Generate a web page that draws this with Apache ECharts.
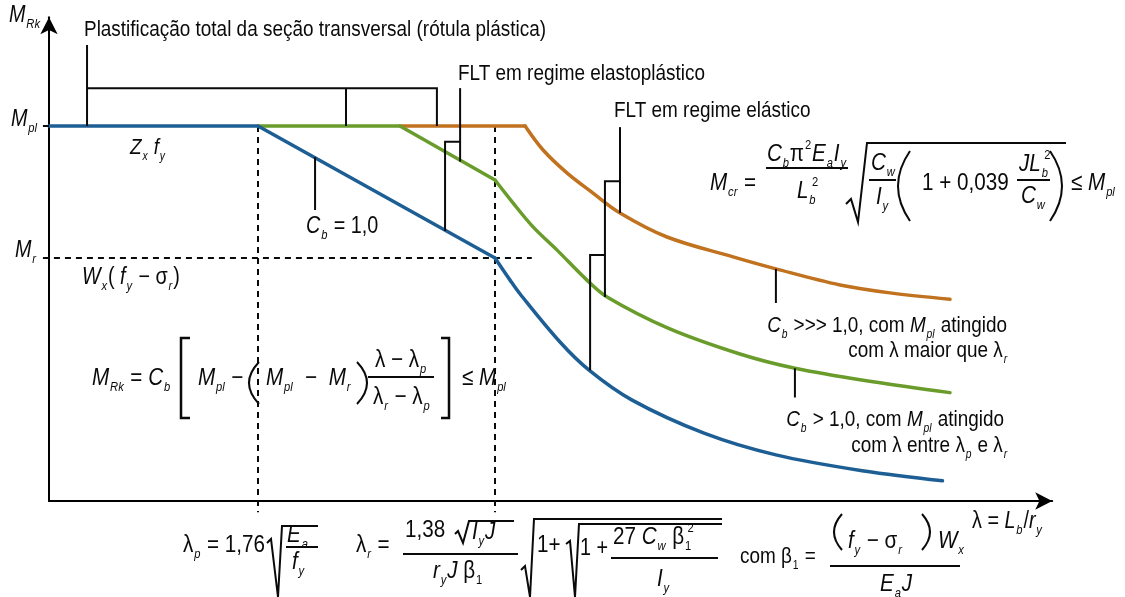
<!DOCTYPE html>
<html><head><meta charset="utf-8">
<script src="https://cdn.jsdelivr.net/npm/echarts@6/dist/echarts.min.js"></script>
<style>html,body{margin:0;padding:0;background:#fff}#chart{width:1125px;height:597px}</style>
</head><body><div id="chart"></div>
<script>
// ---------------- data (λ scaled so that λp = 100, M relative to Mpl = 1) ----------------
const lambdaP = 100;
const lambdaR = 213.4;
const Mpl = 1.0;
const Mr = 0.648;
const lambdaMax = 480;
const mMax = 1.29;

const blueInelastic = [[0, 1], [100, 1], [213.4, 0.648]];
const blueElastic = [[213.4, 0.648], [220.6, 0.589], [225.4, 0.552], [244.5, 0.424], [258.4, 0.349], [279, 0.269], [313.4, 0.181], [347.8, 0.123], [390, 0.08], [427.5, 0.054]];
const greenInelastic = [[100, 1], [167.9, 1], [213.4, 0.856]];
const greenElastic = [[213.4, 0.856], [222, 0.795], [231.6, 0.731], [243.1, 0.669], [257.4, 0.589], [267, 0.544], [296.2, 0.461], [330.6, 0.392], [356.9, 0.354], [394.3, 0.318], [431.1, 0.289]];
const orangeInelastic = [[167.9, 1], [227.8, 1]];
const orangeElastic = [[227.8, 1], [236.4, 0.936], [247.8, 0.875], [260.3, 0.821], [273.2, 0.768], [295.7, 0.704], [327.3, 0.651], [347.8, 0.619], [378.5, 0.576], [402.4, 0.555], [431.1, 0.538]];

const dashedLines = [
  [[100, 1], [100, -0.03]],
  [[213.4, 1], [213.4, -0.03]],
  [[-2.9, 0.648], [231, 0.648]]
];
const pointerLines = [
  [[18.2, 1.216], [18.2, 1.0]],
  [[18.2, 1.101], [185.6, 1.101], [185.6, 1.0]],
  [[142.1, 1.101], [142.1, 1.0]],
  [[196.7, 1.101], [196.7, 0.905]],
  [[196.7, 0.958], [189.5, 0.958], [189.5, 0.72]],
  [[273.2, 0.997], [273.2, 0.768]],
  [[273.2, 0.853], [266, 0.853], [266, 0.544]],
  [[266, 0.656], [258.9, 0.656], [258.9, 0.349]],
  [[127.3, 0.917], [127.3, 0.776]],
  [[347.8, 0.619], [347.8, 0.528]],
  [[356.9, 0.354], [356.9, 0.276]],
  [[-2.9, 1], [0, 1]]
];

const BLUE = '#1d5f95', GREEN = '#6a9c2c', ORANGE = '#c0721f', INK = '#0a0a0a';

// ---------------- text helpers ----------------
const FF = '"Liberation Sans", Arial, Helvetica, sans-serif';
const TITLE = 'Plastificação total da seção transversal (rótula plástica)';
const mctx = document.createElement('canvas').getContext('2d');
mctx.font = '22px "Liberation Sans", Arial, sans-serif';
const SX = Math.min(1, 462 / mctx.measureText(TITLE).width);

function rich(F) {
  const L = Math.round(F * 1.3), s = Math.round(F * 0.56);
  const sub = { fontSize: s, fontFamily: FF, lineHeight: s + 1, verticalAlign: 'bottom', padding: [0, 1, 0, 1] };
  return {
    i: { fontSize: F, fontFamily: FF, fontStyle: 'italic', lineHeight: L },
    b: Object.assign({ fontStyle: 'italic' }, sub),
    bn: Object.assign({}, sub),
    bw: Object.assign({ fontStyle: 'italic', width: 1 }, sub),
    bnw: Object.assign({ width: 1 }, sub),
    p: { fontSize: s, fontFamily: FF, lineHeight: Math.round(L * 0.7), verticalAlign: 'top', padding: [0, 1, 0, 1] }
  };
}
function T(x, y, text, F, align) {
  return { type: 'text', x: x, y: y, scaleX: SX, z: 100, silent: true,
    style: { x: 0, y: 0, text: text, fontSize: F, fontFamily: FF, lineHeight: Math.round(F * 1.3), fill: INK,
      align: align || 'left', verticalAlign: 'middle', rich: rich(F) } };
}
function P(points, w) {
  return { type: 'polyline', z: 100, silent: true, shape: { points: points }, style: { stroke: INK, lineWidth: w || 2, fill: 'none' } };
}
function H(x1, x2, y, w) {
  return { type: 'line', z: 100, silent: true, shape: { x1: x1, y1: y, x2: x2, y2: y }, style: { stroke: INK, lineWidth: w || 2 } };
}
function PAR(xEnd, xCtrl, y1, y2) {
  return { type: 'bezierCurve', z: 100, silent: true,
    shape: { x1: xEnd, y1: y1, x2: xEnd, y2: y2, cpx1: xCtrl, cpy1: (y1 + y2) / 2 },
    style: { stroke: INK, lineWidth: 2, fill: 'none' } };
}

const G = [];
// annotations
G.push(T(84, 30, TITLE, 22));
G.push(T(458, 74, 'FLT em regime elastoplástico', 22));
G.push(T(614, 111, 'FLT em regime elástico', 22));
G.push(T(9, 16, '{i|M}{b|Rk}', 23));
G.push(T(11, 120, '{i|M}{b|pl}', 23));
G.push(T(15, 251, '{i|M}{b|r}', 23));
G.push(T(130, 148, '{i|Z}{b|x} {i|f}{b|y}', 22));
G.push(T(306, 227, '{i|C}{b|b} = 1,0', 23));
G.push(T(82, 278, '{i|W}{b|x}( {i|f}{b|y} − σ{b|r})', 23));
G.push(T(1007, 326, '{i|C}{b|b} >>> 1,0, com {i|M}{b|pl} atingido', 22, 'right'));
G.push(T(1008, 351, 'com λ maior que λ{b|r}', 22, 'right'));
G.push(T(1004, 420, '{i|C}{b|b} > 1,0, com {i|M}{b|pl} atingido', 22, 'right'));
G.push(T(1008, 446, 'com λ entre λ{b|p} e λ{b|r}', 22, 'right'));
G.push(T(972, 522, 'λ = {i|L}{b|b}/{i|r}{b|y}', 23));

// formula M_Rk
G.push(T(92, 378, '{i|M}{b|Rk} = {i|C}{b|b}', 24));
G.push(P([[190, 338], [181, 338], [181, 418], [190, 418]], 2.5));
G.push(T(198, 378, '{i|M}{b|pl} −', 24));
G.push(PAR(259, 239, 362, 404));
G.push(T(266, 378, '{i|M}{b|pl}  −  {i|M}{b|r}', 24));
G.push(PAR(357, 377, 362, 404));
G.push(T(375, 360, 'λ − λ{b|p}', 24));
G.push(H(368, 434, 377));
G.push(T(373, 397, 'λ{b|r} − λ{b|p}', 24));
G.push(P([[441, 338], [449, 338], [449, 418], [441, 418]], 2.5));
G.push(T(462, 378, '≤ {i|M}{b|pl}', 24));

// formula M_cr
G.push(T(710, 183, '{i|M}{b|cr} =', 24));
G.push(T(767, 154, '{i|C}{b|b}π{p|2}{i|E}{b|a}{i|I}{b|y}', 24));
G.push(H(766, 848, 168));
G.push(T(797, 191, '{i|L}{bw|b}{p|2}', 24));
G.push(P([[846, 204], [851, 199], [858, 222], [867, 143], [1066, 143]], 2));
G.push(T(871, 163, '{i|C}{b|w}', 24));
G.push(H(869, 896, 180));
G.push(T(876, 197, '{i|I}{b|y}', 24));
G.push(PAR(910, 886, 151, 221));
G.push(T(922, 183, '1 + 0,039', 24));
G.push(T(1019, 164, '{i|J}{i|L}{bw|b}{p|2}', 24));
G.push(H(1017, 1050, 180));
G.push(T(1021, 196, '{i|C}{b|w}', 24));
G.push(PAR(1050, 1074, 151, 221));
G.push(T(1071, 183, '≤ {i|M}{b|pl}', 24));

// bottom formulas
G.push(T(183, 545, 'λ{b|p} = 1,76', 24));
G.push(P([[267, 543], [271, 539], [278, 597], [282, 526], [318, 526]], 2));
G.push(T(287, 535, '{i|E}{b|a}', 24));
G.push(H(286, 318, 547));
G.push(T(292, 562, '{i|f}{b|y}', 24));
G.push(T(356, 545, 'λ{b|r} =', 24));
G.push(T(405, 530, '1,38', 24));
G.push(P([[455, 534], [458, 531], [463, 543], [469, 521], [514, 521]], 2));
G.push(T(472, 532, '{i|I}{b|y}{i|J}', 24));
G.push(H(403, 518, 554));
G.push(T(433, 571, '{i|r}{b|y}{i|J} β{bn|1}', 24));
G.push(P([[521, 570], [525, 566], [530, 597], [534, 519], [722, 519]], 2));
G.push(T(537, 545, '1+', 24));
G.push(P([[566, 544], [570, 541], [575, 597], [579, 524], [722, 524]], 2));
G.push(T(580, 549, '1 +', 23));
G.push(T(613, 537, '27 {i|C}{b|w} β{bnw|1}{p|2}', 24));
G.push(H(611, 718, 558));
G.push(T(657, 579, '{i|I}{b|y}', 24));
G.push(T(740, 557, 'com β{bn|1} =', 22));
G.push(PAR(842, 826, 514, 550));
G.push(T(848, 541, '{i|f}{b|y} − σ{b|r}', 24));
G.push(PAR(922, 938, 514, 550));
G.push(T(938, 541, '{i|W}{b|x}', 24));
G.push(H(830, 960, 566));
G.push(T(880, 584, '{i|E}{b|a}{i|J}', 24));

// ---------------- chart ----------------
function curve(data, color, smooth) {
  return { type: 'line', data: data, showSymbol: false, symbol: 'none', smooth: smooth ? 0.35 : false,
    silent: true, z: 5, lineStyle: { color: color, width: 3.5, join: 'round', cap: 'round' } };
}
const axisCommon = {
  type: 'value',
  axisLine: { show: true, onZero: false, symbol: ['none', 'arrow'], symbolSize: [13, 17], lineStyle: { color: '#000', width: 2 } },
  axisTick: { show: false }, axisLabel: { show: false }, splitLine: { show: false }
};
const chart = echarts.init(document.getElementById('chart'), null, { renderer: 'canvas' });
chart.setOption({
  animation: false,
  backgroundColor: '#fff',
  grid: { left: 49, right: 1125 - 49 - lambdaMax * 2.09, top: 501 - mMax * 375, bottom: 96 },
  xAxis: Object.assign({ min: 0, max: lambdaMax }, axisCommon),
  yAxis: Object.assign({ min: 0, max: mMax }, axisCommon),
  series: [
    { type: 'lines', coordinateSystem: 'cartesian2d', polyline: false, silent: true, clip: false, z: 2,
      data: dashedLines.map(c => ({ coords: c })),
      lineStyle: { color: INK, width: 2, type: [6, 5], opacity: 1 } },
    curve(orangeInelastic, ORANGE, false),
    curve(orangeElastic, ORANGE, true),
    curve(greenInelastic, GREEN, false),
    curve(greenElastic, GREEN, true),
    curve(blueInelastic, BLUE, false),
    curve(blueElastic, BLUE, true),
    { type: 'lines', coordinateSystem: 'cartesian2d', polyline: true, silent: true, clip: false, z: 6,
      data: pointerLines.map(c => ({ coords: c })),
      lineStyle: { color: INK, width: 2, opacity: 1 } }
  ],
  graphic: { elements: G }
});
</script></body></html>
